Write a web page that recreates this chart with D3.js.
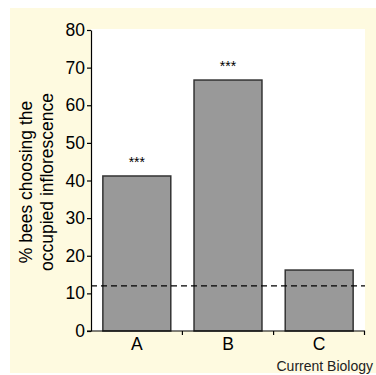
<!DOCTYPE html>
<html>
<head>
<meta charset="utf-8">
<script src="https://d3js.org/d3.v7.min.js"></script>
<style>
body { margin: 0; background: #ffffff; }
svg { display: block; }
</style>
</head>
<body>
<svg id="svg" width="376" height="375"></svg>
<script>
// data
const categories = ["A", "B", "C"];
const values = [41.2, 66.7, 16.2];
const stars = ["***", "***", ""];
const chanceLevel = 12;
const yTicks = [0, 10, 20, 30, 40, 50, 60, 70, 80];

const svg = d3.select("#svg");
const font = "'Liberation Sans', Arial, sans-serif";

// cream panel
svg.append("rect").attr("x", 10).attr("y", 8).attr("width", 366).attr("height", 365).attr("fill", "#fefae0");

const x = d3.scaleBand().domain(categories).range([91, 365]).paddingInner(0.255).paddingOuter(0.13);
const y = d3.scaleLinear().domain([0, 80]).range([331, 30]);

// white plot area
svg.append("rect").attr("x", 91).attr("y", 29).attr("width", 274).attr("height", 302).attr("fill", "#ffffff");

// bars
svg.selectAll(".bar").data(values).enter().append("rect")
    .attr("class", "bar")
    .attr("x", (d, i) => x(categories[i]))
    .attr("y", d => y(d))
    .attr("width", x.bandwidth())
    .attr("height", d => y(0) - y(d))
    .attr("fill", "#999999")
    .attr("stroke", "#333333")
    .attr("stroke-width", 1.5);

// significance stars
svg.selectAll(".star").data(values).enter().append("text")
    .attr("x", (d, i) => x(categories[i]) + x.bandwidth() / 2)
    .attr("y", d => y(d) - 9)
    .attr("text-anchor", "middle")
    .style("font-family", font).style("font-size", "14px").style("fill", "#000")
    .text((d, i) => stars[i]);

// chance line
svg.append("line")
    .attr("x1", 91).attr("x2", 365)
    .attr("y1", y(chanceLevel)).attr("y2", y(chanceLevel))
    .attr("stroke", "#000").attr("stroke-width", 1.2).attr("stroke-dasharray", "6,4");

// y axis
const yAxis = svg.append("g").attr("transform", "translate(91,0)")
    .call(d3.axisLeft(y).tickValues(yTicks).tickSize(4).tickSizeOuter(0).tickPadding(2));
yAxis.select(".domain").attr("stroke", "#000").attr("stroke-width", 1.2);
yAxis.selectAll(".tick line").attr("stroke", "#000").attr("stroke-width", 1.2);
yAxis.selectAll("text").style("font-family", font).style("font-size", "17.5px").attr("fill", "#000");

// x axis: ticks at band boundaries
const xAxisG = svg.append("g");
xAxisG.append("line").attr("x1", 87).attr("x2", 365).attr("y1", y(0)).attr("y2", y(0))
    .attr("stroke", "#000").attr("stroke-width", 1.2);
const bounds = categories.map(c => x(c) + x.bandwidth() + x.step() * x.paddingInner() / 2);
bounds[bounds.length - 1] = 364.5;
xAxisG.selectAll(".xt").data(bounds).enter().append("line")
    .attr("x1", d => d).attr("x2", d => d)
    .attr("y1", y(0)).attr("y2", y(0) + 4)
    .attr("stroke", "#000").attr("stroke-width", 1.2);
xAxisG.selectAll(".xl").data(categories).enter().append("text")
    .attr("x", d => x(d) + x.bandwidth() / 2)
    .attr("y", 350)
    .attr("text-anchor", "middle")
    .style("font-family", font).style("font-size", "17.5px").style("fill", "#000")
    .text(d => d);

// y label
const yl = svg.append("text")
    .attr("transform", "translate(0,182) rotate(-90)")
    .attr("text-anchor", "middle")
    .style("font-family", font).style("font-size", "17.5px").style("fill", "#000");
yl.append("tspan").attr("x", 0).attr("y", 32).text("% bees choosing the");
yl.append("tspan").attr("x", 0).attr("y", 53).text("occupied inflorescence");

// credit
svg.append("text").attr("x", 373).attr("y", 371).attr("text-anchor", "end")
    .style("font-family", font).style("font-size", "14px").style("fill", "#222")
    .text("Current Biology");
</script>
</body>
</html>
